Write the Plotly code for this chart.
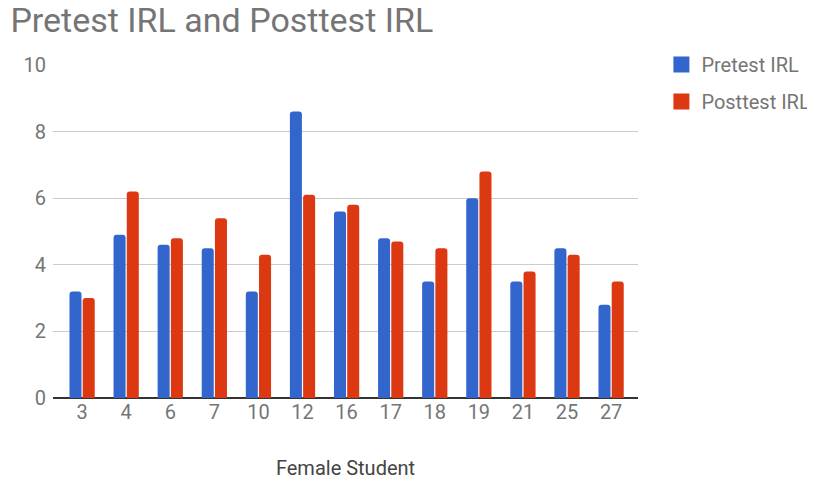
import plotly.graph_objects as go

students = ["3", "4", "6", "7", "10", "12", "16", "17", "18", "19", "21", "25", "27"]
pretest = [3.2, 4.9, 4.6, 4.5, 3.2, 8.6, 5.6, 4.8, 3.5, 6.0, 3.5, 4.5, 2.8]
posttest = [3.0, 6.2, 4.8, 5.4, 4.3, 6.1, 5.8, 4.7, 4.5, 6.8, 3.8, 4.3, 3.5]
y_ticks = [0, 2, 4, 6, 8, 10]

FONT = "Roboto, Arial, sans-serif"
BLUE, RED = "#3366cc", "#dc3912"

fig = go.Figure()
fig.add_trace(go.Bar(x=students, y=pretest, name="Pretest IRL", marker_color=BLUE,
                     marker_line_width=0, marker_cornerradius=3, showlegend=False))
fig.add_trace(go.Bar(x=students, y=posttest, name="Posttest IRL", marker_color=RED,
                     marker_line_width=0, marker_cornerradius=3, showlegend=False))
# legend entries with larger square swatches
for nm, col, grp in [("Pretest IRL", BLUE, "a"), ("Posttest IRL", RED, "b")]:
    fig.add_trace(go.Scatter(x=[None], y=[None], mode="markers", name=nm, legendgroup=grp,
                             marker=dict(symbol="square", size=16, color=col),
                             hoverinfo="skip"))

# the page body has an 8px margin, so the figure is 8px smaller than the window
fig.update_layout(
    width=807, height=474,
    paper_bgcolor="white", plot_bgcolor="white",
    barmode="group", bargap=0.40, bargroupgap=0.09,
    margin=dict(l=45, r=177, t=57, b=84, autoexpand=False),
    font=dict(family=FONT, color="#757575", size=20),
    title=dict(text="Pretest IRL and Posttest IRL", x=0.003, xanchor="left",
               y=0.975, yanchor="middle",
               font=dict(family=FONT, size=34, color="#757575")),
    legend=dict(x=1.04, xanchor="left", y=1.06, yanchor="top",
                font=dict(family=FONT, size=20, color="#757575"),
                bgcolor="rgba(0,0,0,0)", tracegroupgap=8),
    xaxis=dict(type="category", showgrid=False, ticks="", showline=False,
               range=[-0.66, 12.61], automargin=False,
               tickfont=dict(size=20, color="#757575"),
               title=dict(text="Female Student", standoff=37,
                          font=dict(size=20, color="#444444"))),
    yaxis=dict(range=[0, 10], tickvals=y_ticks, showgrid=True, gridcolor="#cccccc",
               gridwidth=1, zeroline=True, zerolinecolor="#333333", zerolinewidth=1.5,
               ticks="", ticklabelstandoff=6, automargin=False,
               tickfont=dict(size=20, color="#757575")),
)

fig.write_html("out.html")
